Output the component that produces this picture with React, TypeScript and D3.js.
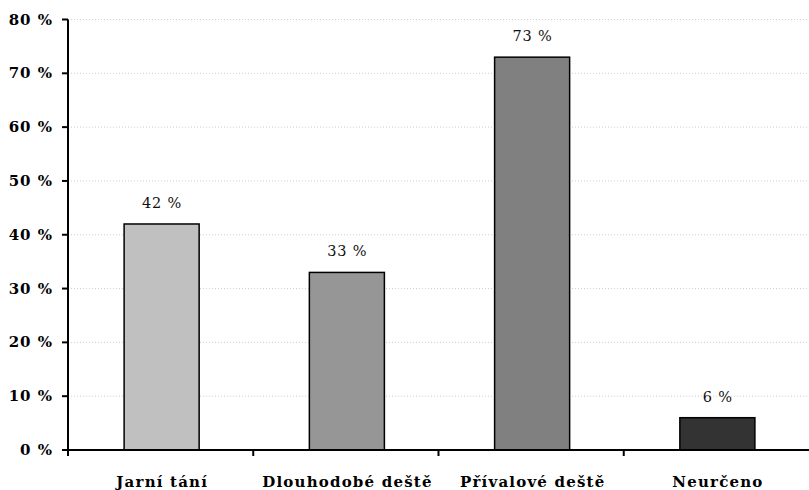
import React from "react";
import * as d3 from "d3";

const categories = ["Jarní tání", "Dlouhodobé deště", "Přívalové deště", "Neurčeno"];
const values = [42, 33, 73, 6];
const barColors = ["#c0c0c0", "#969696", "#808080", "#333333"];
const yTicks = [0, 10, 20, 30, 40, 50, 60, 70, 80];

const W = 809;
const H = 490;
const left = 68;
const right = 809;
const top = 19.5;
const bottom = 450;
const font = "'DejaVu Serif', Georgia, serif";

export default function App() {
  const x = d3.scaleBand<string>().domain(categories).range([left, right]).padding(0);
  const y = d3.scaleLinear().domain([0, 80]).range([bottom, top]);
  const bw = x.bandwidth() * 0.405;

  return (
    <svg
      width={W}
      height={H}
      style={{ position: "absolute", left: 0, top: 0, background: "#fff" }}
    >
      {yTicks.slice(1).map((t) => (
        <line
          key={"g" + t}
          x1={left}
          x2={right}
          y1={y(t)}
          y2={y(t)}
          stroke="#cfcfcf"
          strokeWidth={1}
          strokeDasharray="1 2"
        />
      ))}
      {categories.map((c, i) => {
        const cx = (x(c) as number) + x.bandwidth() / 2 + 1;
        return (
          <g key={c}>
            <rect
              x={cx - bw / 2}
              y={y(values[i])}
              width={bw}
              height={bottom - y(values[i])}
              fill={barColors[i]}
              stroke="#000"
              strokeWidth={1.5}
            />
            <text
              x={cx + 0.5}
              y={y(values[i]) - 16}
              textAnchor="middle"
              fontFamily={font}
              fontSize={14.5}
              letterSpacing={0.8}
              fill="#111"
            >
              {values[i]} %
            </text>
            <text
              x={cx + 0.6}
              y={487}
              textAnchor="middle"
              fontFamily={font}
              fontSize={15}
              letterSpacing={1.2}
              fontWeight="bold"
              fill="#000"
            >
              {c}
            </text>
          </g>
        );
      })}
      {yTicks.map((t) => (
        <g key={"t" + t}>
          <line x1={left - 6} x2={left} y1={y(t)} y2={y(t)} stroke="#000" strokeWidth={2} />
          <text
            x={53}
            y={y(t) + 5}
            textAnchor="end"
            fontFamily={font}
            fontSize={15}
            letterSpacing={1}
            fontWeight="bold"
            fill="#000"
          >
            {t} %
          </text>
        </g>
      ))}
      {categories.map((c) => (
        <line
          key={"xt" + c}
          x1={x(c) as number}
          x2={x(c) as number}
          y1={bottom}
          y2={bottom + 6}
          stroke="#000"
          strokeWidth={2}
        />
      ))}
      <line x1={left} x2={left} y1={top} y2={bottom} stroke="#000" strokeWidth={2} />
      <line x1={left} x2={right} y1={bottom} y2={bottom} stroke="#000" strokeWidth={2} />
    </svg>
  );
}
